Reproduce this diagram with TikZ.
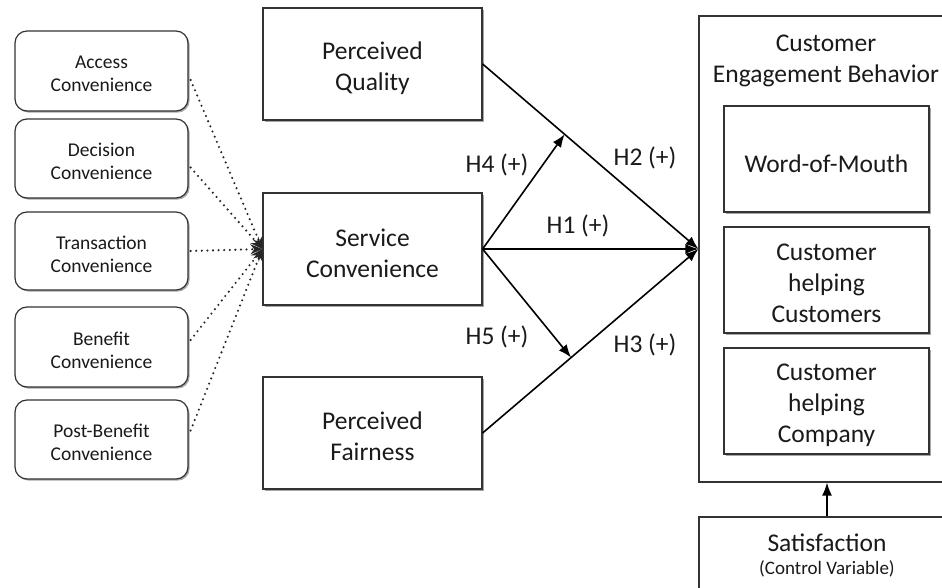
\documentclass[tikz,border=0pt]{standalone}
\usepackage{fontspec}
\setmainfont{Carlito}
\usetikzlibrary{arrows.meta,shadows,calc}
\definecolor{edge}{HTML}{333333}
\definecolor{ink}{HTML}{1A1A1A}
\tikzset{
  shd/.style={drop shadow={shadow xshift=1.6pt,shadow yshift=-1.6pt,opacity=0.35,fill=black}},
  st/.style={align=center,text=ink,inner sep=0pt,font=\fontsize{19.5}{23}\selectfont},
  bt/.style={align=center,text=ink,inner sep=0pt,font=\fontsize{25.5}{31}\selectfont},
  smallbox/.style={draw=edge,line width=1.2pt,rounded corners=12pt,fill=white,shd,minimum width=173pt},
  bigbox/.style={draw=edge,line width=1.2pt,fill=white,shd,minimum width=219pt,minimum height=112pt},
  innerbox/.style={draw=edge,line width=1.2pt,fill=white,shd,minimum width=205pt,minimum height=106pt},
  frame/.style={draw=edge,line width=1.1pt},
  hyp/.style={line width=1.6pt,draw=black,-{Latex[length=13pt,width=10pt]}},
  dots/.style={line width=2.3pt,draw=black!85,dash pattern=on 0pt off 5.6pt,line cap=round,
    -{Stealth[length=12pt,width=10pt,line cap=butt]}},
  lbl/.style={text=ink,font=\fontsize{25.5}{30}\selectfont,inner sep=0pt}
}
\begin{document}
\begin{tikzpicture}[x=1pt,y=-1pt]
\useasboundingbox (0,0) rectangle (942,588);
\clip (0,0) rectangle (942,588);
\fill[white] (0,0) rectangle (942,588);
% left convenience boxes
\node[smallbox,minimum height=80pt,label={[st,yshift=-3pt]center:Access\\Convenience}] (acc) at (101.5,71) {};
\node[smallbox,minimum height=79pt,label={[st,yshift=-3pt]center:Decision\\Convenience}] (dec) at (101.5,158.5) {};
\node[smallbox,minimum height=78pt,label={[st,yshift=-3pt]center:Transaction\\Convenience}] (tra) at (101.5,251) {};
\node[smallbox,minimum height=80pt,label={[st,yshift=-3pt]center:Benefit\\Convenience}] (ben) at (101.5,347) {};
\node[smallbox,minimum height=79pt,label={[st,yshift=-3pt]center:Post-Benefit\\Convenience}] (post) at (101.5,439.5) {};
% middle boxes
\node[bigbox,label={[bt,yshift=-4pt]center:Perceived\\Quality}] (qual) at (372.5,64) {};
\node[bigbox,label={[bt,yshift=-4pt]center:Service\\Convenience}] (serv) at (372.5,249) {};
\node[bigbox,label={[bt,yshift=-3pt]center:Perceived\\Fairness}] (fair) at (372.5,433) {};
% engagement frame
\node[frame,minimum width=256pt,minimum height=466pt,inner sep=0pt] (ceb) at (827,249) {};
\node[bt] (cebt) at (826,61) {Customer\\Engagement Behavior};
\node[innerbox,label={[bt,yshift=-5pt]center:Word-of-Mouth}] (wom) at (826.5,159) {};
\node[innerbox,label={[bt,yshift=-3.5pt]center:Customer\\helping\\Customers}] (chc) at (826.5,280) {};
\node[innerbox,label={[bt,yshift=-4pt]center:Customer\\helping\\Company}] (chco) at (826.5,401) {};
% satisfaction
\node[frame,minimum width=256pt,minimum height=104pt,inner sep=0pt] (sat) at (827,569) {};
\node[text=ink,inner sep=0pt,font=\fontsize{25.5}{30}\selectfont] (satt) at (827,543) {Satisfaction};
\node[text=ink,inner sep=0pt,font=\fontsize{19}{22}\selectfont] (satc) at (827,569) {(Control Variable)};
\coordinate (m) at (ceb.west);
% dotted convenience arrows
\draw[dots] ($(acc.east)+(2,9)$) -- (serv.west);
\draw[dots] ($(dec.east)+(2,9)$) -- (serv.west);
\draw[dots] ($(tra.east)+(2,0)$) -- (serv.west);
\draw[dots] ($(ben.east)+(2,-7)$) -- (serv.west);
\draw[dots] ($(post.east)+(2,-9)$) -- (serv.west);
% hypotheses
\coordinate (q) at (qual.east);
\coordinate (f) at (fair.east);
\draw[hyp] (serv.east) -- (m);
\draw[hyp] (q) -- (m);
\draw[hyp] (f) -- (m);
\draw[hyp] (serv.east) -- ($(q)!0.38!(m)$);
\draw[hyp] (serv.east) -- ($(f)!0.41!(m)$);
\draw[hyp] (sat.north) -- (ceb.south);
% labels
\node[lbl] (h4) at (497,165) {H4 (+)};
\node[lbl] (h2) at (645,158) {H2 (+)};
\node[lbl] (h1) at (578,226) {H1 (+)};
\node[lbl] (h5) at (497,337) {H5 (+)};
\node[lbl] (h3) at (645,345) {H3 (+)};
\end{tikzpicture}
\end{document}
